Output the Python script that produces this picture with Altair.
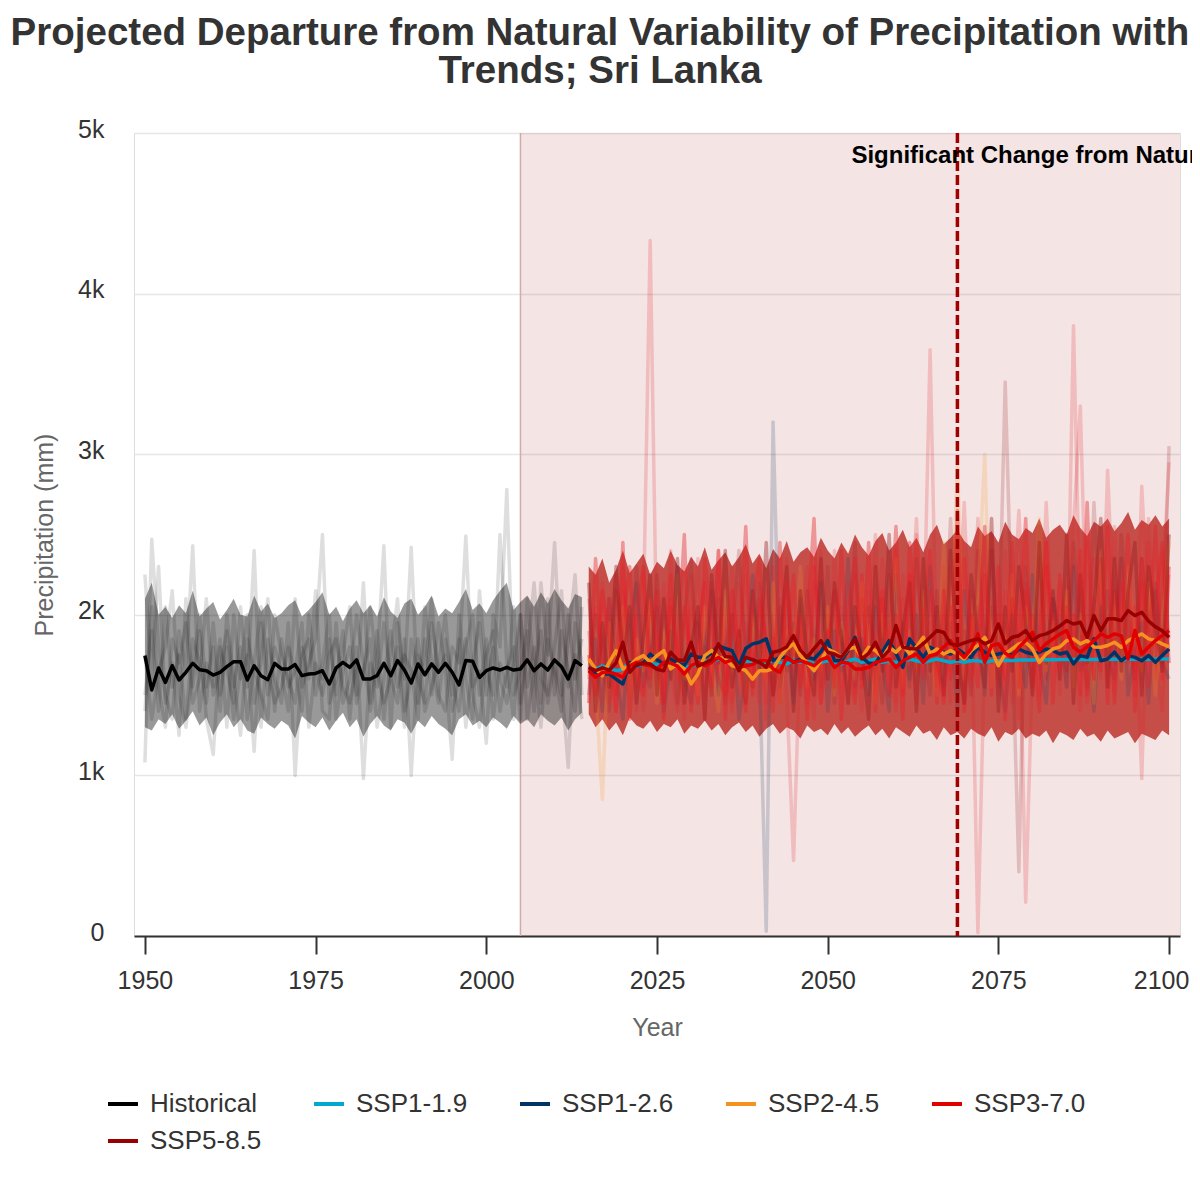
import altair as alt
import pandas as pd

FONT = "Liberation Sans"

# ---------------- data ----------------
years_hist = list(range(1950, 2015))
years_proj = list(range(2015, 2101))

hist_mean = [1746,1532,1669,1579,1683,1594,1642,1698,1658,1652,
             1625,1642,1677,1708,1708,1594,1683,1621,1596,1698,
             1663,1663,1690,1621,1631,1635,1652,1569,1669,1704,
             1673,1719,1600,1600,1621,1698,1621,1715,1656,1575,
             1694,1627,1694,1642,1698,1642,1563,1715,1711,1610,
             1652,1669,1656,1673,1656,1663,1719,1652,1694,1656,
             1719,1677,1600,1715,1683]

ssp119 = [1673,1663,1680,1670,1652,1660,1704,1683,1694,1700,
          1690,1704,1694,1683,1673,1680,1694,1714,1704,1725,
          1735,1714,1700,1714,1704,1714,1704,1714,1704,1694,
          1714,1704,1714,1694,1704,1714,1704,1694,1714,1725,
          1704,1714,1725,1704,1714,1704,1714,1725,1714,1704,
          1714,1725,1714,1704,1714,1704,1714,1714,1704,1714,
          1714,1716,1716,1718,1718,1718,1720,1720,1720,1721,
          1721,1722,1722,1722,1722,1723,1723,1723,1723,1724,
          1724,1724,1724,1725,1725,1725]
ssp126 = [1652,1640,1632,1632,1600,1569,1704,1683,1700,1756,
          1720,1694,1725,1700,1683,1756,1735,1735,1760,1809,
          1790,1777,1683,1790,1819,1829,1850,1714,1735,1735,
          1704,1725,1735,1725,1770,1839,1714,1714,1777,1860,
          1735,1700,1694,1767,1839,1760,1673,1850,1790,1735,
          1798,1777,1767,1756,1787,1756,1735,1798,1767,1746,
          1756,1767,1746,1787,1767,1756,1767,1787,1777,1756,
          1767,1694,1746,1735,1850,1714,1725,1767,1714,1746,
          1735,1714,1746,1704,1746,1787]
ssp245 = [1725,1663,1621,1704,1777,1663,1683,1725,1746,1704,
          1746,1777,1663,1694,1663,1569,1632,1746,1777,1735,
          1725,1683,1673,1652,1600,1652,1652,1663,1735,1787,
          1819,1746,1700,1652,1714,1787,1767,1735,1787,1798,
          1735,1798,1777,1735,1798,1767,1809,1756,1800,1860,
          1756,1787,1756,1777,1756,1725,1777,1809,1860,1780,
          1683,1756,1787,1819,1829,1787,1704,1756,1787,1800,
          1839,1850,1819,1839,1800,1798,1809,1829,1798,1839,
          1860,1881,1850,1840,1819,1800]
ssp370 = [1652,1611,1640,1642,1630,1611,1683,1704,1690,1683,
          1663,1704,1700,1680,1632,1683,1704,1683,1704,1735,
          1704,1720,1673,1683,1690,1714,1714,1663,1642,1735,
          1704,1714,1700,1683,1720,1735,1673,1704,1700,1663,
          1663,1673,1704,1714,1725,1673,1714,1735,1756,1704,
          1746,1756,1800,1839,1777,1735,1787,1881,1704,1809,
          1819,1760,1735,1798,1840,1891,1777,1820,1850,1880,
          1902,1798,1767,1800,1839,1881,1860,1881,1870,1725,
          1902,1756,1800,1840,1870,1902]
ssp585 = [1673,1652,1670,1655,1700,1829,1642,1690,1700,1694,
          1660,1652,1767,1720,1714,1829,1680,1700,1720,1819,
          1740,1735,1652,1735,1720,1704,1673,1767,1777,1800,
          1870,1780,1735,1790,1839,1767,1756,1735,1790,1850,
          1725,1760,1829,1735,1780,1933,1798,1790,1787,1820,
          1860,1902,1890,1819,1809,1825,1839,1850,1819,1839,
          1943,1820,1860,1870,1902,1839,1870,1881,1902,1930,
          1964,1943,1954,1860,1995,1902,1975,1975,1964,2026,
          1995,2016,1960,1925,1900,1860]

scenarios = ["Historical", "SSP1-1.9", "SSP1-2.6", "SSP2-4.5", "SSP3-7.0", "SSP5-8.5"]
scenario_colors = ["#000000", "#00a9cf", "#003466", "#f69320", "#e00000", "#980002"]

# ensemble spread (dense core) of the model runs
hist_lo = [1300,1280,1350,1320,1380,1290,1340,1400,1310,1360,
           1250,1330,1380,1300,1350,1280,1260,1360,1320,1290,
           1340,1310,1230,1370,1330,1300,1360,1280,1340,1390,
           1300,1350,1240,1320,1370,1310,1280,1350,1330,1260,
           1340,1300,1370,1320,1290,1250,1350,1380,1310,1340,
           1300,1360,1330,1290,1370,1320,1350,1300,1380,1340,
           1310,1360,1280,1350,1390]
hist_hi = [2100,2200,2000,2050,1980,2060,2010,2150,1990,2040,
           2080,1970,2030,2100,2000,1990,2120,2020,2070,1980,
           2010,2060,2090,1990,2030,2080,2140,2000,2050,1960,
           2040,2090,2010,2060,1990,2110,2020,1980,2070,2100,
           2000,2050,2120,1990,2040,2010,2080,2160,2030,2070,
           2010,2090,2150,2200,2030,2080,2120,2050,2140,2070,
           2160,2090,2040,2130,2110]
proj_lo = [1380,1300,1350,1280,1330,1250,1360,1310,1290,1340,
           1270,1320,1300,1350,1260,1310,1290,1340,1280,1320,
           1250,1300,1330,1270,1310,1240,1290,1320,1260,1300,
           1280,1230,1310,1270,1290,1250,1320,1260,1300,1240,
           1280,1310,1250,1290,1230,1300,1270,1240,1310,1260,
           1280,1220,1300,1250,1270,1230,1290,1260,1240,1300,
           1210,1270,1250,1290,1230,1260,1240,1280,1200,1270,
           1250,1220,1290,1240,1260,1210,1280,1230,1250,1270,
           1200,1260,1240,1220,1280,1250]
proj_hi = [2300,2250,2350,2200,2280,2400,2260,2320,2380,2250,
           2330,2290,2400,2310,2270,2360,2300,2420,2280,2340,
           2390,2300,2360,2440,2320,2380,2290,2410,2350,2460,
           2330,2390,2420,2360,2480,2400,2350,2450,2380,2500,
           2420,2370,2460,2510,2400,2450,2530,2420,2480,2390,
           2500,2560,2440,2480,2530,2460,2420,2550,2490,2520,
           2450,2580,2500,2470,2540,2510,2600,2480,2530,2560,
           2500,2620,2540,2490,2580,2550,2600,2520,2570,2640,
           2530,2590,2560,2620,2550,2600]

# individual model runs (historical)
hist_runs = [
    [1080,2470,1800,1500,1350,1900,1650,2430,1400,1700,
     1550,1850,1300,2000,1600,1750,1150,1950,1500,1800,
     1650,1400,2100,1550,1700,1850,2500,1450,1600,1900,
     1350,1800,980,1700,1550,1950,1600,1450,1850,1000,
     1750,1650,2100,1500,1400,1800,1700,2490,1550,1650,
     1200,2000,1800,2780,1500,1650,1900,1400,2200,1750,
     2450,1600,1050,1950,1700],
    [2250,1600,2300,1450,1700,1250,2100,1550,1900,1350,
     1130,1800,1650,1450,2050,1550,2400,1300,1850,1600,
     1450,1950,1000,1750,1850,1500,1700,2000,1350,1650,
     1800,1500,2200,1400,1700,2430,1300,1950,1600,2420,
     1450,1850,1500,1950,1650,1100,2000,1600,1350,2150,
     1650,1500,2500,1700,1350,2000,1550,1800,1450,2100,
     1500,1900,1650,1400,2050],
    [1500,1900,1400,2050,1550,1750,1350,1850,1700,1450,
     1950,1500,1800,1350,1650,2000,1450,1700,2100,1400,
     1850,1550,1650,1950,1300,1700,1600,1850,1500,1750,
     2050,1450,1650,1850,1300,1600,1900,1550,1750,1650,
     1350,2050,1700,1450,1850,1600,1400,1800,2000,1500,
     1850,1350,1700,1550,2050,1450,1750,2200,1600,1500,
     1800,2150,1550,1750,1350],
    [1750,1350,1650,1800,2150,1500,1300,1650,2000,1550,
     1800,1400,2000,1600,1250,1850,1650,1500,1350,2000,
     1750,1600,1450,1800,1600,2150,1400,1350,1950,1450,
     1600,2000,1700,1450,1900,1350,1750,2100,1400,1600,
     1850,1400,1550,1700,2000,1500,1850,1300,1700,1950,
     1500,1800,1400,1650,1800,1350,2100,1650,1300,1850,
     1650,1400,1850,2250,1500],
    [1400,2050,1550,1300,1850,1700,1950,1450,1600,2100,
     1500,1650,1900,1550,1800,1350,1700,2050,1650,1450,
     1550,1800,1650,1400,2000,1650,1500,1750,1850,1550,
     1450,1700,1600,2050,1650,1450,1600,1800,1300,1850,
     1600,1450,1950,1650,1750,1400,1600,1850,1500,1300,
     1750,1900,1600,1450,1700,2000,1350,1650,1900,1450,
     1700,1500,2000,1600,1850],
]

# individual model runs (projections): scenario colour, line opacity, values
proj_runs = [
    ("#e71d25", 0.2, [1900,1500,2200,1650,1400,2300,1750,1550,2000,4330,
                      1700,1450,2100,1800,1350,2250,1600,1950,1500,2400,
                      1700,1400,2200,1850,1550,2050,1450,2300,1650,1900,
                      1500,2150,1750,1350,2400,1800,1600,2050,1450,2250,
                      1700,1950,1500,2350,1800,1400,2100,1650,2500,1750,
                      3650,1600,2000,1450,2300,1850,1550,2600,1700,2100,
                      1500,2400,1800,1350,2200,1950,1600,2700,1750,2050,
                      1550,3800,1900,1450,2350,2000,1650,2550,1800,2150,
                      1500,2800,1950,1600,2400,1850]),
    ("#173c66", 0.2, [1500,1850,1400,2100,1650,1350,1900,2200,1550,1750,
                      2050,1400,1700,2300,1600,1450,1950,1750,2150,1500,
                      1800,2000,1350,1650,2250,1700,30,3200,1550,1850,
                      1450,2100,1750,1600,2200,1400,1900,1650,2350,1550,
                      1850,1500,2050,1700,1400,2250,1800,1600,2000,1450,
                      2300,1700,1550,1950,1400,2150,1750,1850,1500,2400,
                      1650,1400,2000,1800,1550,2250,1700,1450,2100,1900,
                      1550,2300,1650,1850,1400,2050,1750,1600,2350,1500,
                      1800,1950,1450,2150,1700,1600]),
    ("#e71d25", 0.2, [2100,1650,1450,1900,2250,1550,1700,2000,1400,1800,
                      1550,2200,1650,1400,1950,1750,2350,1500,1800,1650,
                      2050,1450,1800,2250,1600,1900,1350,1750,2100,1500,
                      470,1850,2300,1650,1450,2000,1750,1550,2200,1800,
                      1400,2150,1650,1950,1500,2400,1700,1850,1450,2050,
                      1750,1550,2300,1650,1900,1450,2150,20,1800,2500,
                      1600,1950,1450,2200,210,1700,2350,1650,1850,1500,
                      2200,1750,1400,2450,1600,1950,1850,1500,2300,1700,
                      2050,1550,2600,1750,1400,2250]),
    ("#951b1e", 0.2, [1650,2000,1750,1400,2150,1850,1500,2300,1700,1550,
                      2250,1650,1900,1450,2000,2350,1600,1800,1500,2100,
                      1450,1900,2400,1700,1550,2200,1800,1500,2050,1650,
                      1950,1500,2150,1800,1550,2300,1450,1900,1700,2450,
                      1600,2050,1800,1450,2250,1700,1950,1550,2350,1800,
                      1500,2150,1700,2600,1650,1900,1500,2400,1800,2050,
                      1700,3450,1900,400,2300,1750,2550,1600,2100,1850,
                      1650,2450,1950,1550,2700,1800,2150,1700,2500,1950,
                      1600,2350,1900,2200,1700,3050]),
    ("#f79420", 0.2, [1800,1550,850,1950,1700,2050,1500,1850,1650,2100,
                      1450,1900,1750,2250,1600,1800,1500,2050,1700,1400,
                      2150,1650,1850,1500,2000,1750,1600,2200,1450,1900,
                      1700,2300,1550,1850,1650,2050,1500,1950,1750,1600,
                      2200,1800,1450,2000,1700,2350,1550,1900,1650,2150,
                      1800,1500,2450,1700,2950,1600,1850,2100,3000,1550,
                      1900,1700,2250,1500,2050,1800,2600,1650,1950,1750,
                      2150,1550,2000,1800,1450,2400,1700,2050,1600,2300,
                      1850,1650,2200,1500,1950,2450]),
    ("#e71d25", 0.2, [1600,2050,1800,1450,1750,2150,1950,1400,2250,1650,
                      1900,1550,2400,1700,1500,2050,1850,1350,2200,1750,
                      1600,2300,1500,1950,1750,1450,2150,1900,1600,2350,
                      1650,1900,1450,2200,2050,1550,2400,1700,1850,1500,
                      2100,1750,2500,1600,1900,1450,2250,1800,2600,1650,
                      1950,1700,1500,2300,1850,2700,1600,2050,1750,2400,
                      1550,2150,1850,2650,1700,2000,1500,2450,1800,2200,
                      1650,2550,3300,1750,2100,1600,2900,1850,2350,1700,
                      2050,980,2450,1800,2150,2950]),
    ("#e71d25", 0.4, [1450,2350,1700,2100,1500,2450,1350,2000,2300,1600,
                      2150,1450,2050,1750,2500,1400,1900,2200,1550,2400,
                      1350,2000,1700,2550,1500,2100,1850,1400,2450,1700,
                      2250,1550,1950,2600,1450,1800,2150,1350,2000,2350,
                      1550,2450,1400,2100,1750,2550,1500,2250,1650,1950,
                      2400,1450,2150,1600,2650,1400,2000,1750,2550,1500,
                      2300,1350,2100,1800,2600,1550,1900,2450,1450,2250,
                      1700,2000,1500,2700,1600,2350,1450,2150,1900,2500,
                      1400,2200,1750,2550,1600,2300]),
    ("#951b1e", 0.4, [2200,1400,1950,1550,2300,1700,2050,1450,1850,2250,
                      1500,2100,1600,2350,1450,1800,2050,1350,2250,1700,
                      2400,1550,1900,1450,2150,1650,2450,1500,1800,2300,
                      1400,2150,1700,1500,2350,1600,2200,1850,1450,2050,
                      1750,1350,2300,1650,2500,1550,1900,2200,1400,2350,
                      1650,2050,1500,2400,1750,1450,2250,1850,1550,2600,
                      1400,2050,1650,2300,1950,1500,2450,1700,2150,1600,
                      2500,1450,2250,1700,2050,2600,1550,2350,1650,2150,
                      2450,1500,2300,1950,1650,2500]),
    ("#e71d25", 0.4, [1750,1500,2150,1850,1400,1950,2300,1650,1500,2100,
                      1850,1350,2250,1600,2050,1750,1450,2350,1950,1600,
                      1500,2150,1800,1400,2050,2350,1600,1850,1450,2200,
                      1750,2000,1350,2300,1650,1900,1550,2400,1700,1450,
                      2250,1600,1850,2150,1500,2000,1350,2450,1800,1600,
                      2150,1750,1450,2050,1600,2350,1850,1550,2250,1700,
                      2000,1600,2450,1550,2150,1800,1400,2300,1950,1650,
                      2050,1750,2400,1500,1850,1650,2550,1450,2200,1800,
                      1650,2350,1550,2050,2450,1700]),
]

X_MIN, X_MAX = 1948.4, 2101.6
PROJ_SHADE_START = 2005
EMERGENCE_YEAR = 2069
ANNOTATION = "Significant Change from Natural Variability"

# ---------------- frames ----------------
hist_band = pd.DataFrame({"year": years_hist, "value": hist_lo, "value2": hist_hi})
proj_band = pd.DataFrame({"year": years_proj, "value": proj_lo, "value2": proj_hi})

rows = []
for i, run in enumerate(hist_runs):
    for y, v in zip(years_hist, run):
        rows.append({"year": y, "value": v, "run": f"h{i}"})
hist_runs_df = pd.DataFrame(rows)

rows = []
for i, (col, op, run) in enumerate(proj_runs):
    for y, v in zip(years_proj, run):
        rows.append({"year": y, "value": v, "run": f"p{i}", "col": col, "op": op})
proj_runs_df = pd.DataFrame(rows)

rows = []
for y, v in zip(years_hist, hist_mean):
    rows.append({"year": y, "value": v, "scenario": "Historical"})
for name, series in zip(scenarios[1:], [ssp119, ssp126, ssp245, ssp370, ssp585]):
    for y, v in zip(years_proj, series):
        rows.append({"year": y, "value": v, "scenario": name})
means_df = pd.DataFrame(rows)

shade_df = pd.DataFrame({"year": [PROJ_SHADE_START], "year2": [X_MAX], "value": [0], "value2": [5000]})
edge_df = pd.DataFrame({"year": [PROJ_SHADE_START]})
emerg_df = pd.DataFrame({"year": [EMERGENCE_YEAR], "value": [5000], "label": [ANNOTATION]})

# ---------------- scales / axes ----------------
xs = alt.Scale(domain=[X_MIN, X_MAX], nice=False, zero=False)
ys = alt.Scale(domain=[0, 5000], nice=False)
xaxis = alt.Axis(title="Year", values=[1950, 1975, 2000, 2025, 2050, 2075, 2100], format="d",
                 grid=False, labelFontSize=25, labelColor="#333333", labelFont=FONT,
                 labelOffset={"condition": {"test": "datum.value == 2100", "value": -8}, "value": 0},
                 domainColor="#333333", domainWidth=2, tickColor="#333333", tickWidth=2,
                 tickSize=18, labelPadding=14, titleFontSize=25, titleColor="#666666",
                 titleFont=FONT, titleFontWeight="normal", titlePadding=22)
yaxis = alt.Axis(title="Precipitation (mm)", values=[0, 1000, 2000, 3000, 4000, 5000],
                 labelExpr="datum.value == 0 ? '0' : format(datum.value / 1000, 'd') + 'k'",
                 domain=False, ticks=False, grid=True, gridColor="#e6e6e6", gridWidth=1.5,
                 labelFontSize=25, labelColor="#333333", labelFont=FONT, labelPadding=30,
                 labelOffset=-4,
                 titleFontSize=25, titleColor="#666666", titleFont=FONT, titleFontWeight="normal",
                 titlePadding=20)

X = alt.X("year:Q", scale=xs, axis=xaxis)
Y = alt.Y("value:Q", scale=ys, axis=yaxis)

shade = alt.Chart(shade_df).mark_rect(color="#a31e1e", opacity=0.12).encode(
    x=X, x2="year2:Q", y=Y, y2="value2:Q")
edge = alt.Chart(edge_df).mark_rule(color="#d2aaaa", strokeWidth=1.5).encode(x=X)

hist_area = alt.Chart(hist_band).mark_area(color="#000000", opacity=0.4).encode(
    x=X, y=Y, y2="value2:Q")
hist_lines = alt.Chart(hist_runs_df).mark_line(color="#000000", opacity=0.13, strokeWidth=3.5,
                                               strokeJoin="round").encode(
    x=X, y=Y, detail="run:N")

proj_area = alt.Chart(proj_band).mark_area(color="#b00800", opacity=0.68).encode(
    x=X, y=Y, y2="value2:Q")
proj_lines = alt.Chart(proj_runs_df).mark_line(strokeWidth=3.5, strokeJoin="round").encode(
    x=X, y=Y, detail="run:N", color=alt.Color("col:N", scale=None),
    opacity=alt.Opacity("op:Q", scale=None))

means = alt.Chart(means_df).mark_line(strokeWidth=3.5, strokeJoin="round").encode(
    x=X, y=Y,
    color=alt.Color("scenario:N",
                    scale=alt.Scale(domain=scenarios, range=scenario_colors),
                    sort=scenarios,
                    legend=alt.Legend(title=None, orient="none", legendX=-28, legendY=954,
                                      direction="horizontal", columns=5, symbolType="stroke",
                                      symbolStrokeWidth=4, symbolSize=900, symbolOpacity=1,
                                      labelFontSize=26, labelFont=FONT, labelColor="#333333",
                                      labelOffset=10, columnPadding=44, rowPadding=7,
                                      gridAlign="all", padding=0)))

emerg_rule = alt.Chart(emerg_df).mark_rule(color="#a00000", strokeWidth=3.5,
                                           strokeDash=[10, 4]).encode(x=X)
emerg_text = alt.Chart(emerg_df).mark_text(align="left", baseline="middle", dx=-106, dy=23,
                                           fontSize=24, fontWeight="bold", font=FONT,
                                           color="#000000").encode(
    x=X, y=Y, text="label:N")

chart = alt.layer(shade, edge, hist_area, hist_lines, proj_area, proj_lines, means,
                  emerg_rule, emerg_text).properties(
    width=1046, height=803,
    padding={"left": 126, "top": 125, "right": 12, "bottom": 230},
    autosize=alt.AutoSizeParams(type="none"),
    title=alt.Title(text=["Projected Departure from Natural Variability of Precipitation with",
                          "Trends; Sri Lanka"],
                    fontSize=38.5, fontWeight="bold", color="#333333", font=FONT,
                    anchor="middle", frame="group", dx=-57, offset=26, lineHeight=38),
).configure_view(stroke=None).configure(font=FONT)

chart.save("out.html", embed_options={"renderer": "svg", "actions": False})
